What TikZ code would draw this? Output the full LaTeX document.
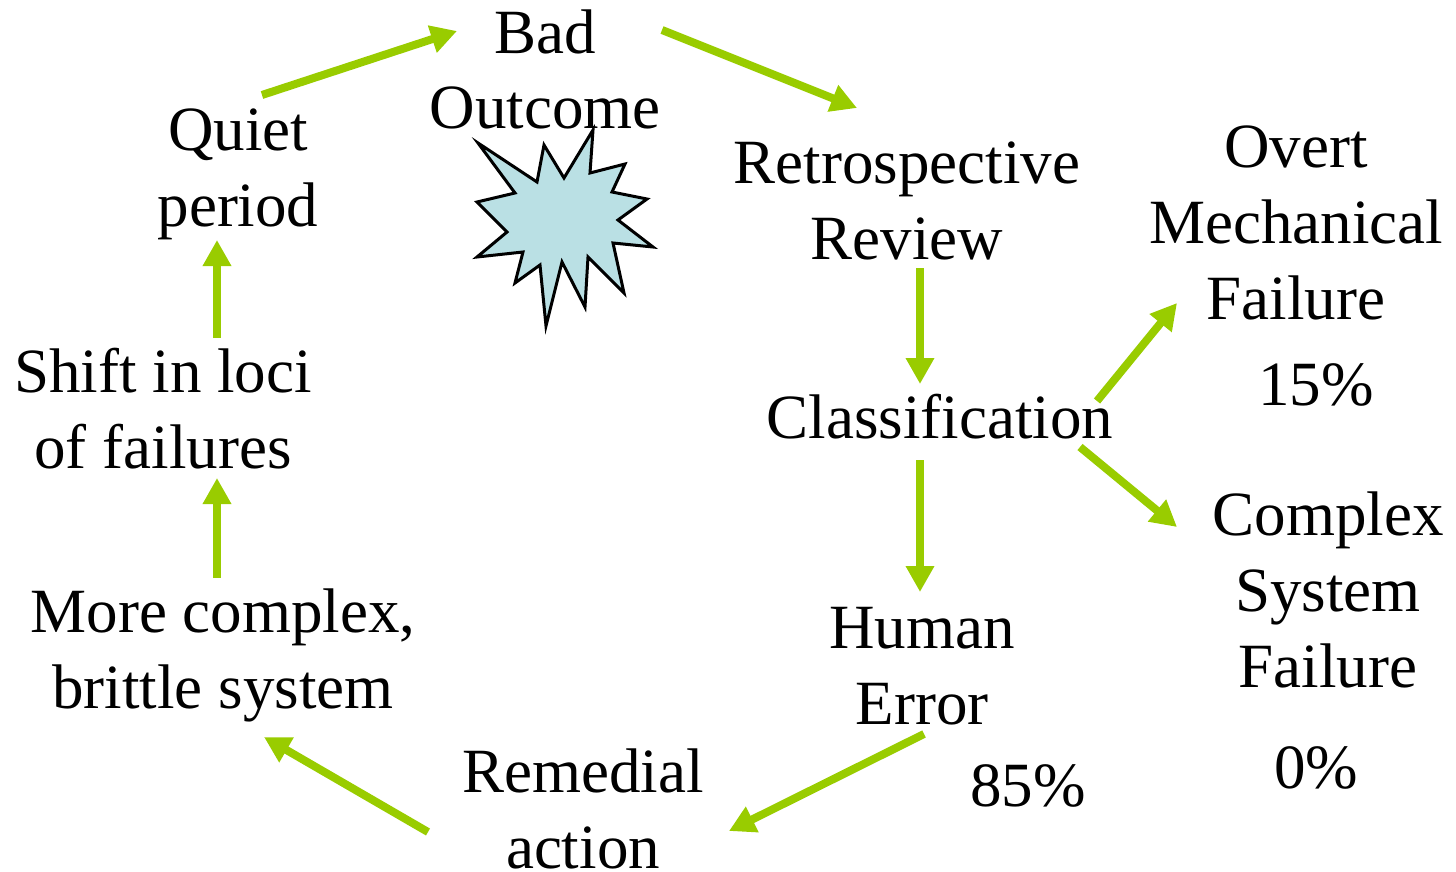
\documentclass[tikz,border=0pt]{standalone}
\usepackage{fontspec}
\setmainfont{Liberation Serif}
\usetikzlibrary{arrows.meta,positioning}
\definecolor{flowgreen}{HTML}{99CC00}
\definecolor{burstblue}{HTML}{BAE0E4}
\tikzstyle{lbl} = [align=center, inner sep=0pt, anchor=base,
    font=\fontsize{63}{76}\selectfont]
\tikzstyle{flow} = [-{Triangle[length=26pt,width=27pt]}, flowgreen, line width=8pt]

\begin{document}
\begin{tikzpicture}[x=1pt, y=-1pt]
  \useasboundingbox (0,0) rectangle (1456,872);
  % labels (placed at the baseline of their last line)
  \node [lbl] (bad) at (545,129) {Bad\\Outcome};
  \node [lbl] (quiet) at (238,226) {Quiet\\period};
  \node [lbl] (retro) at (907,259) {Retrospective\\Review};
  \node [lbl] (overt) at (1296,319) {Overt\\Mechanical\\Failure};
  \node [lbl] (p15) at (1316,405) {15\%};
  \node [lbl] (class) at (940,438) {Classification};
  \node [lbl] (cmplx) at (1328,687) {Complex\\System\\Failure};
  \node [lbl] (p0) at (1316,788) {0\%};
  \node [lbl] (human) at (922,724) {Human\\Error};
  \node [lbl] (p85) at (1028,806) {85\%};
  \node [lbl] (remedial) at (583,868) {Remedial\\action};
  \node [lbl] (brittle) at (223,708) {More complex,\\brittle system};
  \node [lbl] (shift) at (163,468) {Shift in loci\\of failures};
  % the bang
  \draw [fill=burstblue, line width=3pt, line join=miter]
    (593,130) -- (590,173) -- (625,164) -- (612,192) -- (647,199) -- (618,220)
    -- (653,247) -- (613,243) -- (624,293) -- (588,257) -- (585,307) -- (562,262)
    -- (546,326) -- (540,265) -- (515,283) -- (523,252) -- (477,257) -- (507,232)
    -- (477,202) -- (515,193) -- (478,143) -- (537,182) -- (544,145) -- (564,178)
    -- cycle;
  % arrows
  \draw [flow] ([shift={(24,-131)}]quiet.base) -- ([shift={(-88,-98)}]bad.base);
  \draw [flow] ([shift={(117,-99)}]bad.base) -- ([shift={(-50,-151)}]retro.base);
  \draw [flow] ([shift={(13,9)}]retro.base) -- ([shift={(-20,-54)}]class.base);
  \draw [flow] ([shift={(157,-37)}]class.base) -- ([shift={(-119,-16)}]overt.base);
  \draw [flow] ([shift={(140,9)}]class.base) -- ([shift={(-151,-160)}]cmplx.base);
  \draw [flow] ([shift={(-20,22)}]class.base) -- ([shift={(-2,-132)}]human.base);
  \draw [flow] ([shift={(2,10)}]human.base) -- ([shift={(146,-37)}]remedial.base);
  \draw [flow] ([shift={(-155,-36)}]remedial.base) -- ([shift={(41,29)}]brittle.base);
  \draw [flow] ([shift={(-6,-130)}]brittle.base) -- ([shift={(54,10)}]shift.base);
  \draw [flow] ([shift={(54,-130)}]shift.base) -- ([shift={(-21,14)}]quiet.base);
\end{tikzpicture}
\end{document}
